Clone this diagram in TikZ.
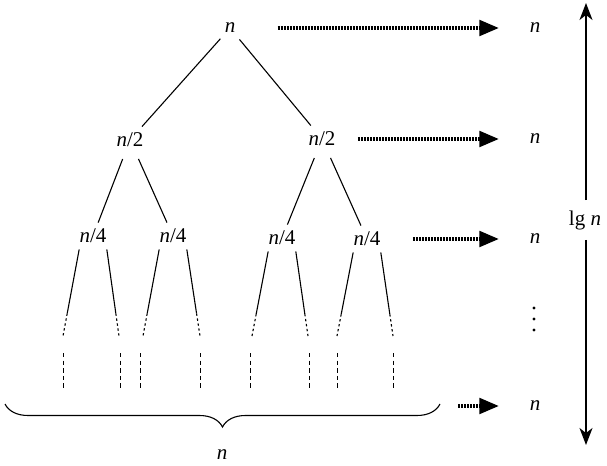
\documentclass[tikz,border=0pt]{standalone}
\usepackage{fontspec}
\setmainfont{Liberation Serif}
\usetikzlibrary{arrows.meta,calc,decorations.pathreplacing}

\tikzset{
  tam/.style={font=\fontsize{10.5}{12}\selectfont, inner xsep=0pt, inner ysep=3pt},
  rama/.style={line width=0.55pt, shorten <=3pt},
  hoja/.style={line width=0.55pt, dash pattern=on 1.2pt off 1.3pt},
  corte/.style={line width=0.45pt, dash pattern=on 2.2pt off 1.6pt},
  nivel/.style={line width=2.4pt, dash pattern=on 1pt off 0.5pt,
    -{Triangle[length=10pt,width=7.5pt]}, shorten >=15pt},
  flecha/.style={line width=0.7pt, -{Stealth[length=8.5pt,width=6.5pt,inset=2.5pt]}}
}

\begin{document}
\begin{tikzpicture}[x=0.5pt, y=-0.5pt]
  \useasboundingbox (0,0) rectangle (607,466);
  % el árbol de recursión
  \node[tam] (raiz) at (230,28) {\textit{n}};
  \node[tam] (m1) at (130,140) {\textit{n}/2};
  \node[tam] (m2) at (322,139) {\textit{n}/2};
  \node[tam] (c1) at (93,236) {\textit{n}/4};
  \node[tam] (c2) at (173,236) {\textit{n}/4};
  \node[tam] (c3) at (282,238) {\textit{n}/4};
  \node[tam] (c4) at (367,239) {\textit{n}/4};
  \draw[rama] (raiz) -- (m1);
  \draw[rama] (raiz) -- (m2);
  \draw[rama] (m1) -- (c1);
  \draw[rama] (m1) -- (c2);
  \draw[rama] (m2) -- (c3);
  \draw[rama] (m2) -- (c4);
  % las ramas que se pierden hacia abajo
  \foreach \x [count=\i] in {63,119,143,200,252,308,337,393}
    \coordinate (f\i) at (\x,336);
  \foreach \q/\a/\i in {c1/south west/1, c1/south east/2, c2/south west/3, c2/south east/4,
                        c3/south west/5, c3/south east/6, c4/south west/7, c4/south east/8} {
    \draw[line width=0.55pt] (\q.\a) -- ($(\q.\a)!.74!(f\i)$);
    \draw[hoja] ($(\q.\a)!.74!(f\i)$) -- (f\i);
  }
  \foreach \x in {63,120,140,200,250,309,337,393}
    \draw[corte] (\x,353) -- (\x,388);
  % la llave de las hojas
  \coordinate (lla) at (5,404);
  \coordinate (llb) at (440,404);
  \draw[line width=0.55pt, decorate, decoration={brace, mirror, amplitude=11.5pt}] (lla) -- (llb);
  \node[tam] (total) at (222,455) {\textit{n}};
  % el coste de cada nivel
  \node[tam] (r1) at (535,28) {\textit{n}};
  \node[tam] (r2) at (535,139) {\textit{n}};
  \node[tam] (r3) at (535,239) {\textit{n}};
  \node[tam] (r4) at (535,406) {\textit{n}};
  \coordinate (sale) at (458,406);
  \draw[nivel, shorten <=21pt] (raiz) -- (r1);
  \draw[nivel, shorten <=11pt] (m2) -- (r2);
  \draw[nivel, shorten <=16pt] (c4) -- (r3);
  \draw[nivel] (sale) -- (r4);
  \foreach \y in {308,319,330}
    \fill (534,\y) circle (1.6);
  % la altura
  \coordinate (arriba) at (586,3);
  \coordinate (abajo) at (586,445);
  \node[tam, inner ysep=5pt] (lg) at (585,220) {lg \textit{n}};
  \draw[flecha] (lg.north -| arriba) -- (arriba);
  \draw[flecha] (lg.south -| abajo) -- (abajo);
\end{tikzpicture}
\end{document}
